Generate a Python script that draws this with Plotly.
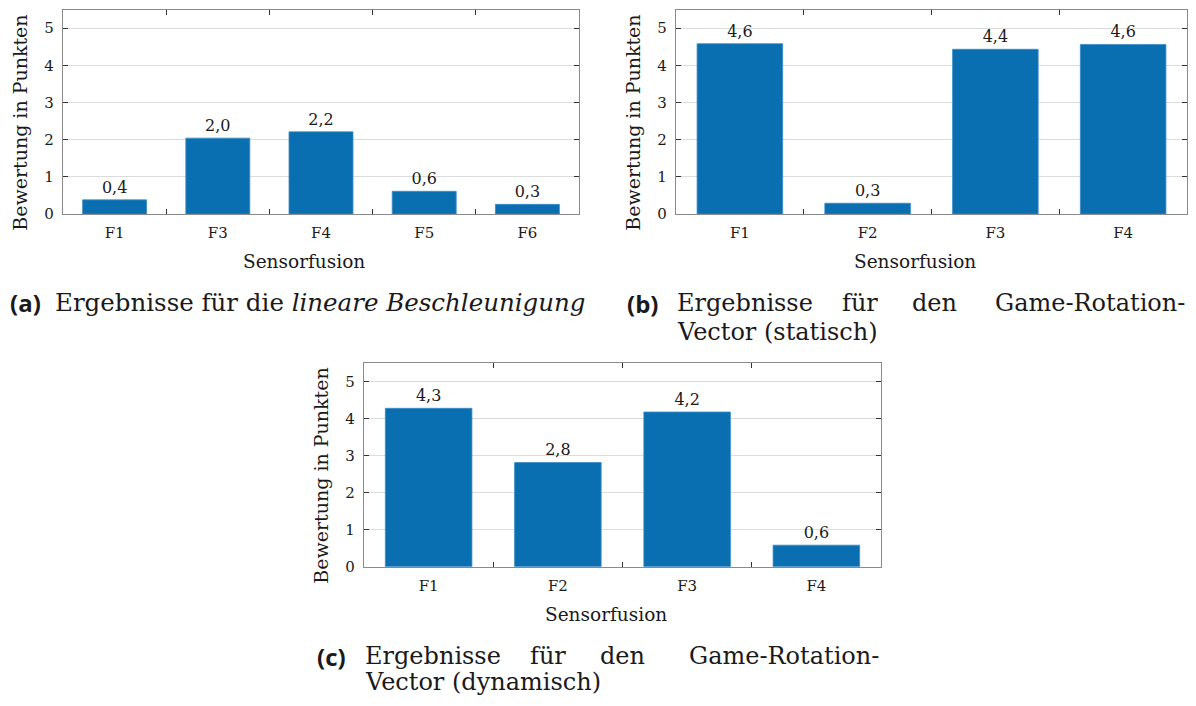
import plotly.graph_objects as go

# ---------------- data ----------------
cats_a = ["F1", "F3", "F4", "F5", "F6"]
vals_a = [0.38, 2.04, 2.21, 0.61, 0.26]

cats_b = ["F1", "F2", "F3", "F4"]
vals_b = [4.58, 0.29, 4.43, 4.56]

cats_c = ["F1", "F2", "F3", "F4"]
vals_c = [4.27, 2.81, 4.17, 0.58]

y_ticks = [0, 1, 2, 3, 4, 5]
x_title = "Sensorfusion"
y_title = "Bewertung in Punkten"

cap_a_label = "(a)"
cap_a_text = "Ergebnisse für die <i>lineare Beschleunigung</i>"
cap_b_label = "(b)"
cap_b_line1 = ["Ergebnisse", "für", "den", "Game-Rotation-"]
cap_b_line2 = "Vector (statisch)"
cap_c_label = "(c)"
cap_c_line1 = ["Ergebnisse", "für", "den", "Game-Rotation-"]
cap_c_line2 = "Vector (dynamisch)"

# ---------------- style ----------------
# the page body has an 8px default margin, so the figure is drawn at (8, 8)
OFF = 8
W, H = 1196 - 2 * OFF, 706 - 2 * OFF
SERIF = "DejaVu Serif"
SANS = "Open Sans"
BAR = "#0a6fb0"
TXT = "#1a1a1a"


def px(x):
    return (x - OFF) / W


def py(y):
    return 1 - (y - OFF) / H


# plot areas in page pixels (left, right, top, bottom)
areas = {
    "a": (63, 579, 9.5, 214),
    "b": (676, 1187, 9.5, 214),
    "c": (364, 881, 362.7, 566.7),
}

fig = go.Figure()

panels = [
    ("a", cats_a, vals_a, 0.62, "x", "y"),
    ("b", cats_b, vals_b, 0.67, "x2", "y2"),
    ("c", cats_c, vals_c, 0.67, "x3", "y3"),
]

for key, cats, vals, bw, xa, ya in panels:
    fig.add_trace(go.Bar(
        x=cats, y=vals, xaxis=xa, yaxis=ya,
        width=bw,
        marker=dict(color=BAR, line=dict(color="#3b8cc6", width=0.8)),
        texttemplate="%{y:.1f}", textposition="outside",
        textfont=dict(family=SERIF, size=16, color=TXT),
        cliponaxis=False, showlegend=False, hoverinfo="skip",
    ))

layout = dict(
    width=W, height=H,
    margin=dict(l=0, r=0, t=0, b=0, pad=0, autoexpand=False),
    paper_bgcolor="white", plot_bgcolor="white",
    separators=",.",
    showlegend=False,
    font=dict(family=SERIF, color=TXT),
)

axis_common_x = dict(
    type="category", showline=True, linecolor="#8a8a8a", linewidth=1.3,
    mirror="ticks", ticks="inside", tickson="boundaries", ticklen=5,
    tickwidth=1.3, tickcolor="#333333", showgrid=False, zeroline=False,
    tickfont=dict(family=SERIF, size=15, color=TXT), ticklabelstandoff=5,
    automargin=False,
)
axis_common_y = dict(
    range=[0, 5.5], tickvals=y_ticks, showline=True, linecolor="#8a8a8a",
    linewidth=1.3, mirror="ticks", ticks="inside", ticklen=5, tickwidth=1.3,
    tickcolor="#333333", showgrid=True, gridcolor="#dcdcdc", gridwidth=1,
    zeroline=False, tickfont=dict(family=SERIF, size=15, color=TXT),
    ticklabelstandoff=5, automargin=False,
)

for i, key in enumerate(["a", "b", "c"]):
    l, r, t, b = areas[key]
    sx = "" if i == 0 else str(i + 1)
    layout["xaxis" + sx] = dict(axis_common_x, domain=[px(l), px(r)],
                               anchor="y" + sx)
    layout["yaxis" + sx] = dict(axis_common_y, domain=[py(b), py(t)],
                               anchor="x" + sx)

fig.update_layout(**layout)

ann = []


def add(text, x, y, size, xanchor="center", yanchor="middle", family=SERIF,
        angle=0):
    ann.append(dict(text=text, x=px(x), y=py(y), xref="paper", yref="paper",
                    xanchor=xanchor, yanchor=yanchor, showarrow=False,
                    textangle=angle,
                    font=dict(family=family, size=size, color=TXT)))


# axis titles
for key in ["a", "b", "c"]:
    l, r, t, b = areas[key]
    add(x_title, (l + r) / 2 - 17, b + 48, 18.5)
    add(y_title, l - 43, (t + b) / 2 + 11, 19, angle=-90)

# caption (a)
add("<b>" + cap_a_label + "</b>", 8, 302, 24, xanchor="left", family=SANS)
add(cap_a_text, 53, 302, 24.5, xanchor="left")

# captions (b) and (c): justified first line, then second line
for lab, words, line2, x_off, y1, y2, right in [
    (cap_b_label, cap_b_line1, cap_b_line2, 0, 303, 332, 1187),
    (cap_c_label, cap_c_line1, cap_c_line2, -312, 656, 682, 881),
]:
    add("<b>" + lab + "</b>", 660 + x_off, y1, 24, xanchor="right",
        family=SANS)
    add(words[0], 675 + x_off, y1, 24, xanchor="left")
    add(words[1], 860 + x_off, y1, 24)
    add(words[2], 934.5 + x_off, y1, 24)
    add(words[3], right, y1, 24, xanchor="right")
    add(line2, 675 + x_off, y2, 24, xanchor="left")

fig.update_layout(annotations=ann)

fig.write_html("out.html")
